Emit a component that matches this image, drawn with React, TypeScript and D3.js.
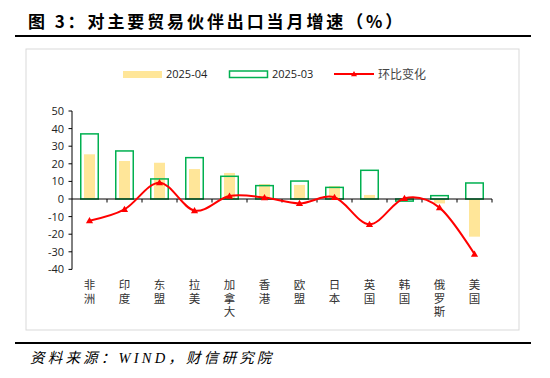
import React from "react";
import * as d3 from "d3";

const categories = ["非洲", "印度", "东盟", "拉美", "加拿大", "香港", "欧盟", "日本", "英国", "韩国", "俄罗斯", "美国"];
const apr2025 = [25.4, 21.6, 20.6, 17.0, 14.8, 8.5, 8.0, 7.4, 2.3, -0.5, -2.5, -21.4];
const mar2025 = [37.0, 27.3, 11.4, 23.5, 12.9, 7.6, 10.2, 6.6, 16.3, -1.2, 1.9, 9.1];
const momChange = [-12.3, -5.9, 9.3, -6.6, 1.7, 0.8, -2.5, 1.0, -14.4, 0.4, -4.9, -31.3];
const yTicks = [50, 40, 30, 20, 10, 0, -10, -20, -30, -40];
const legendLabels = ["2025-04", "2025-03", "环比变化"];

const W = 550;
const H = 378;
const CJK = "'Noto Sans CJK SC', 'Noto Sans', sans-serif";
const YELLOW = "#FFE699";
const GREEN = "#00B050";
const RED = "#FF0000";

export default function App() {
  const x = d3.scaleBand<string>().domain(categories).range([72, 492]).paddingInner(0).paddingOuter(0);
  const y = d3.scaleLinear().domain([-40, 50]).range([269.4, 111]);
  const bw = x.bandwidth();
  const cx = (c: string) => (x(c) as number) + bw / 2;
  const yellowW = 11;
  const greenW = 17.5;

  const line = d3
    .line<number>()
    .x((_, i) => cx(categories[i]))
    .y((d) => y(d))
    .curve(d3.curveCatmullRom.alpha(0));

  const tri = (px: number, py: number, s = 3.6) =>
    `M${px},${py - s}L${px + s},${py + s * 0.75}L${px - s},${py + s * 0.75}Z`;

  return (
    <svg width={W} height={H} style={{ position: "absolute", left: 0, top: 0, background: "#fff" }}>
      <rect x={0} y={0} width={W} height={H} fill="#fff" />
      {/* Title */}
      <text x={28} y={28} fontFamily={CJK} fontSize={17} fontWeight={700} letterSpacing={2.9} fill="#000">
        图 3：对主要贸易伙伴出口当月增速（%）
      </text>
      <line x1={15} x2={531} y1={36} y2={36} stroke="#000" strokeWidth={2.2} />
      {/* Frame */}
      <rect x={26} y={49} width={493} height={281} fill="none" stroke="#d9d9d9" strokeWidth={1} />

      {/* Legend */}
      <rect x={123} y={71} width={39} height={7} fill={YELLOW} />
      <text x={166} y={78} fontFamily="'Open Sans', sans-serif" fontSize={11} fill="#222">{legendLabels[0]}</text>
      <rect x={229.5} y={71} width={38} height={6.5} fill="none" stroke={GREEN} strokeWidth={1.5} />
      <text x={272} y={78} fontFamily="'Open Sans', sans-serif" fontSize={11} fill="#222">{legendLabels[1]}</text>
      <line x1={334} x2={374} y1={74} y2={74} stroke={RED} strokeWidth={2} />
      <path d={tri(354, 74, 3)} fill={RED} />
      <text x={378} y={78.5} fontFamily={CJK} fontSize={12} fill="#444">{legendLabels[2]}</text>

      {/* Y axis */}
      <line x1={72} x2={72} y1={y(50)} y2={y(-40)} stroke="#000" strokeWidth={1} />
      {yTicks.map((t) => (
        <g key={t}>
          <line x1={68.5} x2={72} y1={y(t)} y2={y(t)} stroke="#000" strokeWidth={1} />
          <text x={64} y={y(t) + 4} textAnchor="end" fontFamily="'Open Sans', sans-serif" fontSize={11} fill="#222">
            {t}
          </text>
        </g>
      ))}

      {/* Bars 2025-04 */}
      {categories.map((c, i) => (
        <rect
          key={"a" + c}
          x={cx(c) - yellowW / 2}
          y={Math.min(y(apr2025[i]), y(0))}
          width={yellowW}
          height={Math.abs(y(apr2025[i]) - y(0))}
          fill={YELLOW}
        />
      ))}
      {/* Bars 2025-03 */}
      {categories.map((c, i) => (
        <rect
          key={"m" + c}
          x={cx(c) - greenW / 2}
          y={Math.min(y(mar2025[i]), y(0))}
          width={greenW}
          height={Math.abs(y(mar2025[i]) - y(0))}
          fill="none"
          stroke={GREEN}
          strokeWidth={1.5}
        />
      ))}

      {/* X axis at zero */}
      <line x1={72} x2={492} y1={y(0)} y2={y(0)} stroke="#000" strokeWidth={1} />
      {categories.map((c) => (
        <line key={"t" + c} x1={(x(c) as number) + bw} x2={(x(c) as number) + bw} y1={y(0)} y2={y(0) + 3.5} stroke="#000" strokeWidth={1} />
      ))}

      {/* Line */}
      <path d={line(momChange) || ""} fill="none" stroke={RED} strokeWidth={2} />
      {categories.map((c, i) => (
        <path key={"p" + c} d={tri(cx(c), y(momChange[i]))} fill={RED} />
      ))}

      {/* Category labels (vertical) */}
      {categories.map((c) => (
        <text
          key={"l" + c}
          x={cx(c)}
          y={279}
          fontFamily={CJK}
          fontSize={11.5}
          letterSpacing={2}
          fill="#333"
          style={{ writingMode: "vertical-rl", textOrientation: "upright" } as React.CSSProperties}
        >
          {c}
        </text>
      ))}

      {/* Bottom rule and source */}
      <line x1={15} x2={531} y1={343} y2={343} stroke="#000" strokeWidth={2.2} />
      <text x={30} y={363} fontFamily="'Liberation Serif', 'Noto Sans CJK SC', serif" fontStyle="italic" fontSize={14.5} letterSpacing={3.2} fill="#000">
        资料来源：WIND，财信研究院
      </text>
    </svg>
  );
}
